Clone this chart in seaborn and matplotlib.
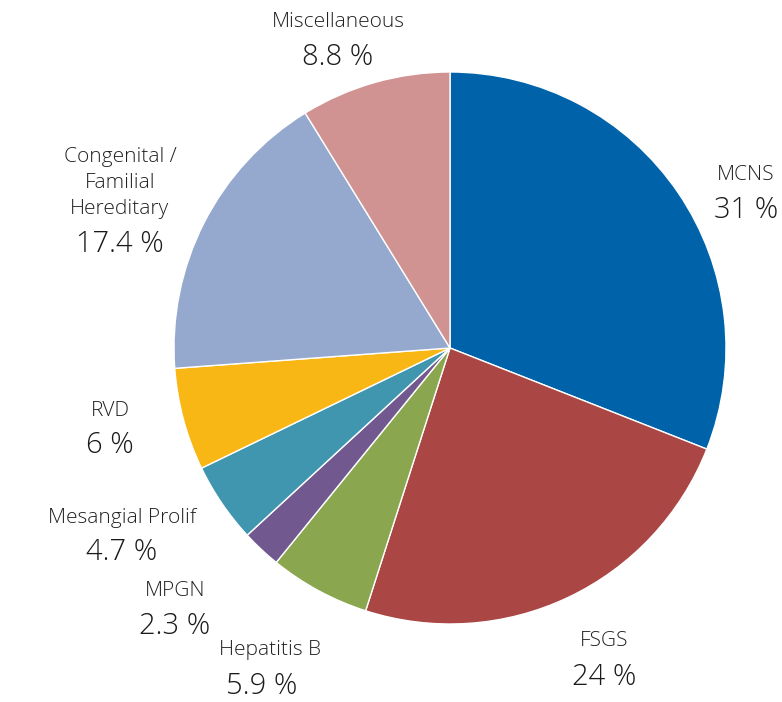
import matplotlib
matplotlib.use("Agg")
import matplotlib.pyplot as plt
import seaborn as sns

categories = ["MCNS", "FSGS", "Hepatitis B", "MPGN", "Mesangial Prolif", "RVD",
              "Congenital /\nFamilial\nHereditary", "Miscellaneous"]
values = [31, 24, 5.9, 2.3, 4.7, 6, 17.4, 8.8]
pct_labels = ["31 %", "24 %", "5.9 %", "2.3 %", "4.7 %", "6 %", "17.4 %", "8.8 %"]
colors = ["#0063AA", "#AA4644", "#8AA64E", "#71588F", "#4096AF", "#F9B715", "#95A9CF", "#D09392"]

# label layout (pixel centres: name line, percent line)
name_pos = [(746, 175), (604, 641), (270, 650), (175, 591), (122, 518), (110, 411), (120, 183), (338, 22)]
pct_pos = [(746, 210), (604, 677), (262, 686), (175, 626), (122, 552), (110, 445), (120, 244), (338, 57)]

sns.set_theme(style="white")
plt.rcParams["font.family"] = ["Open Sans", "DejaVu Sans"]

W, H = 782, 702
CX, CY, R = 450, 348, 276
fig = plt.figure(figsize=(W / 100, H / 100), dpi=100)
ax = fig.add_axes([0, 0, 1, 1])
palette = sns.color_palette(colors)
ax.pie(values, colors=palette, startangle=90, counterclock=False,
       wedgeprops=dict(edgecolor="white", linewidth=1.0), radius=1)
ax.set_xlim(-CX / R, (W - CX) / R)
ax.set_ylim(-(H - CY) / R, CY / R)
ax.set_aspect("auto")
ax.axis("off")

def to_data(p):
    return (p[0] - CX) / R, (CY - p[1]) / R

for name, pct, npos, ppos in zip(categories, pct_labels, name_pos, pct_pos):
    x, y = to_data(npos)
    ax.text(x, y, name, ha="center", va="center", fontsize=15, fontweight="light",
            color="#222222", linespacing=1.42)
    x, y = to_data(ppos)
    ax.text(x, y, pct, ha="center", va="center", fontsize=21, fontweight="light",
            color="#1a1a1a")

fig.savefig("out.png", dpi=100)
